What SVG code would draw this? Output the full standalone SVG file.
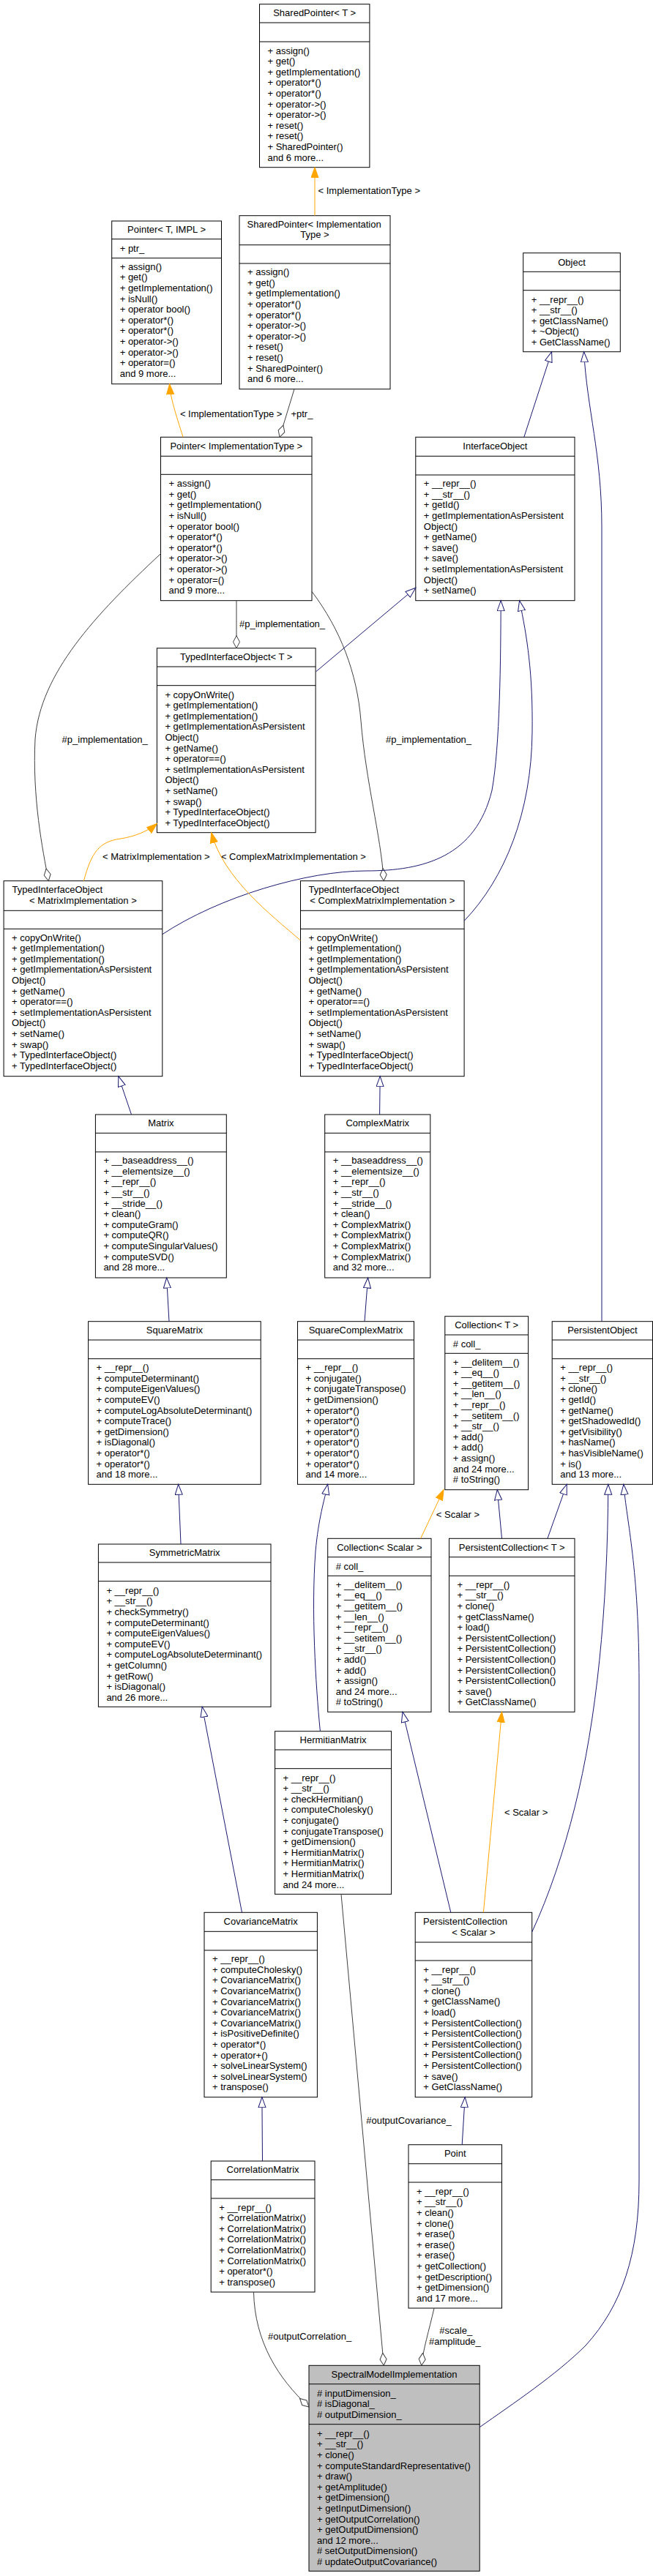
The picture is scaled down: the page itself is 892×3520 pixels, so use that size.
<svg xmlns="http://www.w3.org/2000/svg" width="892" height="3520" viewBox="0 0 892 3520">
<style>
.b{fill:#fff;stroke:#000;stroke-width:1}
.g{fill:#bfbfbf;stroke:#000;stroke-width:1}
.s{fill:none;stroke:#000;stroke-width:1}
text{font-family:"Liberation Sans",Arial,Helvetica,sans-serif;font-size:13px;fill:#000}
.c{text-anchor:middle}
.inh{fill:none;stroke:#191970;stroke-width:1;marker-end:url(#mi)}
.tpl{fill:none;stroke:#ffa500;stroke-width:1;marker-end:url(#mt)}
.use{fill:none;stroke:#404040;stroke-width:1;marker-end:url(#md)}
</style>
<defs>
<marker id="mi" markerUnits="userSpaceOnUse" markerWidth="16" markerHeight="12" refX="14.5" refY="5.5" orient="auto"><path d="M0.5,0.5 L14.5,5.5 L0.5,10.5 z" fill="#fff" stroke="#191970"/></marker>
<marker id="mt" markerUnits="userSpaceOnUse" markerWidth="16" markerHeight="12" refX="14.5" refY="5.5" orient="auto"><path d="M0.5,0.5 L14.5,5.5 L0.5,10.5 z" fill="#ffa500" stroke="#ffa500"/></marker>
<marker id="md" markerUnits="userSpaceOnUse" markerWidth="19" markerHeight="12" refX="17.5" refY="5.5" orient="auto"><path d="M0.5,5.5 L9,1 L17.5,5.5 L9,10 z" fill="#fff" stroke="#404040"/></marker>
</defs>
<rect x="0" y="0" width="892" height="3520" fill="#fff"/>

<g id="SharedPointerT">
<rect class="b" x="354.5" y="5.7" width="150.4" height="223"/>
<path class="s" d="M354.5,31H504.9M354.5,57H504.9"/>
<text class="c" x="429.7" y="21.8">SharedPointer&lt; T &gt;</text>
<text x="365.5" y="73.5"><tspan>+ assign()</tspan><tspan x="365.5" dy="14.6">+ get()</tspan><tspan x="365.5" dy="14.6">+ getImplementation()</tspan><tspan x="365.5" dy="14.6">+ operator*()</tspan><tspan x="365.5" dy="14.6">+ operator*()</tspan><tspan x="365.5" dy="14.6">+ operator-&gt;()</tspan><tspan x="365.5" dy="14.6">+ operator-&gt;()</tspan><tspan x="365.5" dy="14.6">+ reset()</tspan><tspan x="365.5" dy="14.6">+ reset()</tspan><tspan x="365.5" dy="14.6">+ SharedPointer()</tspan><tspan x="365.5" dy="14.6">and 6 more...</tspan></text>
</g>

<g id="SharedPointerImplementationType">
<rect class="b" x="327" y="294.7" width="206" height="237"/>
<path class="s" d="M327,334.7H533M327,360H533"/>
<text x="337.5" y="310.5">SharedPointer&lt; Implementation</text>
<text class="c" x="430" y="325.2">Type &gt;</text>
<text x="338" y="376.2"><tspan>+ assign()</tspan><tspan x="338" dy="14.6">+ get()</tspan><tspan x="338" dy="14.6">+ getImplementation()</tspan><tspan x="338" dy="14.6">+ operator*()</tspan><tspan x="338" dy="14.6">+ operator*()</tspan><tspan x="338" dy="14.6">+ operator-&gt;()</tspan><tspan x="338" dy="14.6">+ operator-&gt;()</tspan><tspan x="338" dy="14.6">+ reset()</tspan><tspan x="338" dy="14.6">+ reset()</tspan><tspan x="338" dy="14.6">+ SharedPointer()</tspan><tspan x="338" dy="14.6">and 6 more...</tspan></text>
</g>

<g id="PointerTIMPL">
<rect class="b" x="152.7" y="302" width="149.8" height="222.7"/>
<path class="s" d="M152.7,326.7H302.5M152.7,352.7H302.5"/>
<text class="c" x="227.6" y="317.9">Pointer&lt; T, IMPL &gt;</text>
<text x="163.7" y="343.8">+ ptr_</text>
<text x="163.7" y="368.8"><tspan>+ assign()</tspan><tspan x="163.7" dy="14.6">+ get()</tspan><tspan x="163.7" dy="14.6">+ getImplementation()</tspan><tspan x="163.7" dy="14.6">+ isNull()</tspan><tspan x="163.7" dy="14.6">+ operator bool()</tspan><tspan x="163.7" dy="14.6">+ operator*()</tspan><tspan x="163.7" dy="14.6">+ operator*()</tspan><tspan x="163.7" dy="14.6">+ operator-&gt;()</tspan><tspan x="163.7" dy="14.6">+ operator-&gt;()</tspan><tspan x="163.7" dy="14.6">+ operator=()</tspan><tspan x="163.7" dy="14.6">and 9 more...</tspan></text>
</g>

<g id="Object">
<rect class="b" x="714.7" y="345.7" width="132.6" height="135"/>
<path class="s" d="M714.7,371.3H847.3M714.7,396.7H847.3"/>
<text class="c" x="781" y="362.5">Object</text>
<text x="725.7" y="413.5"><tspan>+ __repr__()</tspan><tspan x="725.7" dy="14.6">+ __str__()</tspan><tspan x="725.7" dy="14.6">+ getClassName()</tspan><tspan x="725.7" dy="14.6">+ ~Object()</tspan><tspan x="725.7" dy="14.6">+ GetClassName()</tspan></text>
</g>

<g id="PointerImplementationType">
<rect class="b" x="219.5" y="597.3" width="206.5" height="223.4"/>
<path class="s" d="M219.5,623.3H426M219.5,648.3H426"/>
<text class="c" x="322.75" y="613.8">Pointer&lt; ImplementationType &gt;</text>
<text x="230.5" y="665.2"><tspan>+ assign()</tspan><tspan x="230.5" dy="14.6">+ get()</tspan><tspan x="230.5" dy="14.6">+ getImplementation()</tspan><tspan x="230.5" dy="14.6">+ isNull()</tspan><tspan x="230.5" dy="14.6">+ operator bool()</tspan><tspan x="230.5" dy="14.6">+ operator*()</tspan><tspan x="230.5" dy="14.6">+ operator*()</tspan><tspan x="230.5" dy="14.6">+ operator-&gt;()</tspan><tspan x="230.5" dy="14.6">+ operator-&gt;()</tspan><tspan x="230.5" dy="14.6">+ operator=()</tspan><tspan x="230.5" dy="14.6">and 9 more...</tspan></text>
</g>

<g id="InterfaceObject">
<rect class="b" x="567.8" y="597.3" width="217.2" height="223.4"/>
<path class="s" d="M567.8,623.3H785M567.8,649H785"/>
<text class="c" x="676.4" y="613.8">InterfaceObject</text>
<text x="578.8" y="665.2"><tspan>+ __repr__()</tspan><tspan x="578.8" dy="14.6">+ __str__()</tspan><tspan x="578.8" dy="14.6">+ getId()</tspan><tspan x="578.8" dy="14.6">+ getImplementationAsPersistent</tspan><tspan x="578.8" dy="14.6">Object()</tspan><tspan x="578.8" dy="14.6">+ getName()</tspan><tspan x="578.8" dy="14.6">+ save()</tspan><tspan x="578.8" dy="14.6">+ save()</tspan><tspan x="578.8" dy="14.6">+ setImplementationAsPersistent</tspan><tspan x="578.8" dy="14.6">Object()</tspan><tspan x="578.8" dy="14.6">+ setName()</tspan></text>
</g>

<g id="TypedInterfaceObjectT">
<rect class="b" x="214.4" y="885.7" width="216.7" height="252"/>
<path class="s" d="M214.4,911H431.1M214.4,936.7H431.1"/>
<text class="c" x="322.75" y="901.9">TypedInterfaceObject&lt; T &gt;</text>
<text x="225.4" y="953.5"><tspan>+ copyOnWrite()</tspan><tspan x="225.4" dy="14.6">+ getImplementation()</tspan><tspan x="225.4" dy="14.6">+ getImplementation()</tspan><tspan x="225.4" dy="14.6">+ getImplementationAsPersistent</tspan><tspan x="225.4" dy="14.6">Object()</tspan><tspan x="225.4" dy="14.6">+ getName()</tspan><tspan x="225.4" dy="14.6">+ operator==()</tspan><tspan x="225.4" dy="14.6">+ setImplementationAsPersistent</tspan><tspan x="225.4" dy="14.6">Object()</tspan><tspan x="225.4" dy="14.6">+ setName()</tspan><tspan x="225.4" dy="14.6">+ swap()</tspan><tspan x="225.4" dy="14.6">+ TypedInterfaceObject()</tspan><tspan x="225.4" dy="14.6">+ TypedInterfaceObject()</tspan></text>
</g>

<g id="TypedInterfaceObjectMatrixImplementation">
<rect class="b" x="5.1" y="1203.7" width="216.7" height="267"/>
<path class="s" d="M5.1,1244.3H221.8M5.1,1269.3H221.8"/>
<text x="16.5" y="1220.2">TypedInterfaceObject</text>
<text class="c" x="113.45" y="1235.2">&lt; MatrixImplementation &gt;</text>
<text x="16.1" y="1285.5"><tspan>+ copyOnWrite()</tspan><tspan x="16.1" dy="14.6">+ getImplementation()</tspan><tspan x="16.1" dy="14.6">+ getImplementation()</tspan><tspan x="16.1" dy="14.6">+ getImplementationAsPersistent</tspan><tspan x="16.1" dy="14.6">Object()</tspan><tspan x="16.1" dy="14.6">+ getName()</tspan><tspan x="16.1" dy="14.6">+ operator==()</tspan><tspan x="16.1" dy="14.6">+ setImplementationAsPersistent</tspan><tspan x="16.1" dy="14.6">Object()</tspan><tspan x="16.1" dy="14.6">+ setName()</tspan><tspan x="16.1" dy="14.6">+ swap()</tspan><tspan x="16.1" dy="14.6">+ TypedInterfaceObject()</tspan><tspan x="16.1" dy="14.6">+ TypedInterfaceObject()</tspan></text>
</g>

<g id="TypedInterfaceObjectComplexMatrixImplementation">
<rect class="b" x="410.5" y="1203.7" width="223.6" height="267"/>
<path class="s" d="M410.5,1244.3H634.1M410.5,1269.3H634.1"/>
<text x="421.5" y="1220.2">TypedInterfaceObject</text>
<text class="c" x="522.3" y="1235.2">&lt; ComplexMatrixImplementation &gt;</text>
<text x="421.5" y="1285.5"><tspan>+ copyOnWrite()</tspan><tspan x="421.5" dy="14.6">+ getImplementation()</tspan><tspan x="421.5" dy="14.6">+ getImplementation()</tspan><tspan x="421.5" dy="14.6">+ getImplementationAsPersistent</tspan><tspan x="421.5" dy="14.6">Object()</tspan><tspan x="421.5" dy="14.6">+ getName()</tspan><tspan x="421.5" dy="14.6">+ operator==()</tspan><tspan x="421.5" dy="14.6">+ setImplementationAsPersistent</tspan><tspan x="421.5" dy="14.6">Object()</tspan><tspan x="421.5" dy="14.6">+ setName()</tspan><tspan x="421.5" dy="14.6">+ swap()</tspan><tspan x="421.5" dy="14.6">+ TypedInterfaceObject()</tspan><tspan x="421.5" dy="14.6">+ TypedInterfaceObject()</tspan></text>
</g>

<g id="Matrix">
<rect class="b" x="130.4" y="1523" width="178.9" height="223"/>
<path class="s" d="M130.4,1548.3H309.3M130.4,1574H309.3"/>
<text class="c" x="219.85" y="1539.2">Matrix</text>
<text x="141.4" y="1590.2"><tspan>+ __baseaddress__()</tspan><tspan x="141.4" dy="14.6">+ __elementsize__()</tspan><tspan x="141.4" dy="14.6">+ __repr__()</tspan><tspan x="141.4" dy="14.6">+ __str__()</tspan><tspan x="141.4" dy="14.6">+ __stride__()</tspan><tspan x="141.4" dy="14.6">+ clean()</tspan><tspan x="141.4" dy="14.6">+ computeGram()</tspan><tspan x="141.4" dy="14.6">+ computeQR()</tspan><tspan x="141.4" dy="14.6">+ computeSingularValues()</tspan><tspan x="141.4" dy="14.6">+ computeSVD()</tspan><tspan x="141.4" dy="14.6">and 28 more...</tspan></text>
</g>

<g id="ComplexMatrix">
<rect class="b" x="443.7" y="1523" width="144.1" height="223"/>
<path class="s" d="M443.7,1548.3H587.8M443.7,1574H587.8"/>
<text class="c" x="515.75" y="1539.2">ComplexMatrix</text>
<text x="454.7" y="1590.2"><tspan>+ __baseaddress__()</tspan><tspan x="454.7" dy="14.6">+ __elementsize__()</tspan><tspan x="454.7" dy="14.6">+ __repr__()</tspan><tspan x="454.7" dy="14.6">+ __str__()</tspan><tspan x="454.7" dy="14.6">+ __stride__()</tspan><tspan x="454.7" dy="14.6">+ clean()</tspan><tspan x="454.7" dy="14.6">+ ComplexMatrix()</tspan><tspan x="454.7" dy="14.6">+ ComplexMatrix()</tspan><tspan x="454.7" dy="14.6">+ ComplexMatrix()</tspan><tspan x="454.7" dy="14.6">+ ComplexMatrix()</tspan><tspan x="454.7" dy="14.6">and 32 more...</tspan></text>
</g>

<g id="SquareMatrix">
<rect class="b" x="120.6" y="1805.7" width="235.6" height="222.6"/>
<path class="s" d="M120.6,1831H356.2M120.6,1856.7H356.2"/>
<text class="c" x="238.4" y="1821.9">SquareMatrix</text>
<text x="131.6" y="1873.2"><tspan>+ __repr__()</tspan><tspan x="131.6" dy="14.6">+ computeDeterminant()</tspan><tspan x="131.6" dy="14.6">+ computeEigenValues()</tspan><tspan x="131.6" dy="14.6">+ computeEV()</tspan><tspan x="131.6" dy="14.6">+ computeLogAbsoluteDeterminant()</tspan><tspan x="131.6" dy="14.6">+ computeTrace()</tspan><tspan x="131.6" dy="14.6">+ getDimension()</tspan><tspan x="131.6" dy="14.6">+ isDiagonal()</tspan><tspan x="131.6" dy="14.6">+ operator*()</tspan><tspan x="131.6" dy="14.6">+ operator*()</tspan><tspan x="131.6" dy="14.6">and 18 more...</tspan></text>
</g>

<g id="SquareComplexMatrix">
<rect class="b" x="406.5" y="1805.7" width="159" height="222.6"/>
<path class="s" d="M406.5,1831H565.5M406.5,1856.7H565.5"/>
<text class="c" x="486" y="1821.9">SquareComplexMatrix</text>
<text x="417.5" y="1873.2"><tspan>+ __repr__()</tspan><tspan x="417.5" dy="14.6">+ conjugate()</tspan><tspan x="417.5" dy="14.6">+ conjugateTranspose()</tspan><tspan x="417.5" dy="14.6">+ getDimension()</tspan><tspan x="417.5" dy="14.6">+ operator*()</tspan><tspan x="417.5" dy="14.6">+ operator*()</tspan><tspan x="417.5" dy="14.6">+ operator*()</tspan><tspan x="417.5" dy="14.6">+ operator*()</tspan><tspan x="417.5" dy="14.6">+ operator*()</tspan><tspan x="417.5" dy="14.6">+ operator*()</tspan><tspan x="417.5" dy="14.6">and 14 more...</tspan></text>
</g>

<g id="CollectionT">
<rect class="b" x="607.8" y="1798.7" width="113.8" height="237"/>
<path class="s" d="M607.8,1824H721.6M607.8,1849.3H721.6"/>
<text class="c" x="664.7" y="1814.9">Collection&lt; T &gt;</text>
<text x="618.8" y="1840.5"># coll_</text>
<text x="618.8" y="1865.5"><tspan>+ __delitem__()</tspan><tspan x="618.8" dy="14.6">+ __eq__()</tspan><tspan x="618.8" dy="14.6">+ __getitem__()</tspan><tspan x="618.8" dy="14.6">+ __len__()</tspan><tspan x="618.8" dy="14.6">+ __repr__()</tspan><tspan x="618.8" dy="14.6">+ __setitem__()</tspan><tspan x="618.8" dy="14.6">+ __str__()</tspan><tspan x="618.8" dy="14.6">+ add()</tspan><tspan x="618.8" dy="14.6">+ add()</tspan><tspan x="618.8" dy="14.6">+ assign()</tspan><tspan x="618.8" dy="14.6">and 24 more...</tspan><tspan x="618.8" dy="14.6"># toString()</tspan></text>
</g>

<g id="PersistentObject">
<rect class="b" x="754.2" y="1805.7" width="137.3" height="222.6"/>
<path class="s" d="M754.2,1831H891.5M754.2,1856.7H891.5"/>
<text class="c" x="822.85" y="1821.9">PersistentObject</text>
<text x="765.2" y="1873.2"><tspan>+ __repr__()</tspan><tspan x="765.2" dy="14.6">+ __str__()</tspan><tspan x="765.2" dy="14.6">+ clone()</tspan><tspan x="765.2" dy="14.6">+ getId()</tspan><tspan x="765.2" dy="14.6">+ getName()</tspan><tspan x="765.2" dy="14.6">+ getShadowedId()</tspan><tspan x="765.2" dy="14.6">+ getVisibility()</tspan><tspan x="765.2" dy="14.6">+ hasName()</tspan><tspan x="765.2" dy="14.6">+ hasVisibleName()</tspan><tspan x="765.2" dy="14.6">+ is()</tspan><tspan x="765.2" dy="14.6">and 13 more...</tspan></text>
</g>

<g id="SymmetricMatrix">
<rect class="b" x="134.4" y="2110" width="235.6" height="222.3"/>
<path class="s" d="M134.4,2135H370M134.4,2160.7H370"/>
<text class="c" x="252.2" y="2126">SymmetricMatrix</text>
<text x="145.4" y="2177.8"><tspan>+ __repr__()</tspan><tspan x="145.4" dy="14.6">+ __str__()</tspan><tspan x="145.4" dy="14.6">+ checkSymmetry()</tspan><tspan x="145.4" dy="14.6">+ computeDeterminant()</tspan><tspan x="145.4" dy="14.6">+ computeEigenValues()</tspan><tspan x="145.4" dy="14.6">+ computeEV()</tspan><tspan x="145.4" dy="14.6">+ computeLogAbsoluteDeterminant()</tspan><tspan x="145.4" dy="14.6">+ getColumn()</tspan><tspan x="145.4" dy="14.6">+ getRow()</tspan><tspan x="145.4" dy="14.6">+ isDiagonal()</tspan><tspan x="145.4" dy="14.6">and 26 more...</tspan></text>
</g>

<g id="CollectionScalar">
<rect class="b" x="447.7" y="2102.3" width="141.3" height="237"/>
<path class="s" d="M447.7,2127.7H589M447.7,2153.3H589"/>
<text class="c" x="518.35" y="2118.5">Collection&lt; Scalar &gt;</text>
<text x="458.7" y="2144.5"># coll_</text>
<text x="458.7" y="2169.8"><tspan>+ __delitem__()</tspan><tspan x="458.7" dy="14.6">+ __eq__()</tspan><tspan x="458.7" dy="14.6">+ __getitem__()</tspan><tspan x="458.7" dy="14.6">+ __len__()</tspan><tspan x="458.7" dy="14.6">+ __repr__()</tspan><tspan x="458.7" dy="14.6">+ __setitem__()</tspan><tspan x="458.7" dy="14.6">+ __str__()</tspan><tspan x="458.7" dy="14.6">+ add()</tspan><tspan x="458.7" dy="14.6">+ add()</tspan><tspan x="458.7" dy="14.6">+ assign()</tspan><tspan x="458.7" dy="14.6">and 24 more...</tspan><tspan x="458.7" dy="14.6"># toString()</tspan></text>
</g>

<g id="PersistentCollectionT">
<rect class="b" x="613.5" y="2102.3" width="171.5" height="237"/>
<path class="s" d="M613.5,2127.7H785M613.5,2153.3H785"/>
<text class="c" x="699.25" y="2118.5">PersistentCollection&lt; T &gt;</text>
<text x="624.5" y="2169.8"><tspan>+ __repr__()</tspan><tspan x="624.5" dy="14.6">+ __str__()</tspan><tspan x="624.5" dy="14.6">+ clone()</tspan><tspan x="624.5" dy="14.6">+ getClassName()</tspan><tspan x="624.5" dy="14.6">+ load()</tspan><tspan x="624.5" dy="14.6">+ PersistentCollection()</tspan><tspan x="624.5" dy="14.6">+ PersistentCollection()</tspan><tspan x="624.5" dy="14.6">+ PersistentCollection()</tspan><tspan x="624.5" dy="14.6">+ PersistentCollection()</tspan><tspan x="624.5" dy="14.6">+ PersistentCollection()</tspan><tspan x="624.5" dy="14.6">+ save()</tspan><tspan x="624.5" dy="14.6">+ GetClassName()</tspan></text>
</g>

<g id="HermitianMatrix">
<rect class="b" x="375.6" y="2365.7" width="159" height="222.6"/>
<path class="s" d="M375.6,2391H534.6M375.6,2416.7H534.6"/>
<text class="c" x="455.1" y="2381.9">HermitianMatrix</text>
<text x="386.6" y="2433.5"><tspan>+ __repr__()</tspan><tspan x="386.6" dy="14.6">+ __str__()</tspan><tspan x="386.6" dy="14.6">+ checkHermitian()</tspan><tspan x="386.6" dy="14.6">+ computeCholesky()</tspan><tspan x="386.6" dy="14.6">+ conjugate()</tspan><tspan x="386.6" dy="14.6">+ conjugateTranspose()</tspan><tspan x="386.6" dy="14.6">+ getDimension()</tspan><tspan x="386.6" dy="14.6">+ HermitianMatrix()</tspan><tspan x="386.6" dy="14.6">+ HermitianMatrix()</tspan><tspan x="386.6" dy="14.6">+ HermitianMatrix()</tspan><tspan x="386.6" dy="14.6">and 24 more...</tspan></text>
</g>

<g id="CovarianceMatrix">
<rect class="b" x="279" y="2613.3" width="154.4" height="252.4"/>
<path class="s" d="M279,2639.3H433.4M279,2665H433.4"/>
<text class="c" x="356.2" y="2629.8">CovarianceMatrix</text>
<text x="290" y="2681.2"><tspan>+ __repr__()</tspan><tspan x="290" dy="14.6">+ computeCholesky()</tspan><tspan x="290" dy="14.6">+ CovarianceMatrix()</tspan><tspan x="290" dy="14.6">+ CovarianceMatrix()</tspan><tspan x="290" dy="14.6">+ CovarianceMatrix()</tspan><tspan x="290" dy="14.6">+ CovarianceMatrix()</tspan><tspan x="290" dy="14.6">+ CovarianceMatrix()</tspan><tspan x="290" dy="14.6">+ isPositiveDefinite()</tspan><tspan x="290" dy="14.6">+ operator*()</tspan><tspan x="290" dy="14.6">+ operator+()</tspan><tspan x="290" dy="14.6">+ solveLinearSystem()</tspan><tspan x="290" dy="14.6">+ solveLinearSystem()</tspan><tspan x="290" dy="14.6">+ transpose()</tspan></text>
</g>

<g id="PersistentCollectionScalar">
<rect class="b" x="567.2" y="2613.3" width="159.5" height="252.4"/>
<path class="s" d="M567.2,2654H726.7M567.2,2679H726.7"/>
<text x="578" y="2630.2">PersistentCollection</text>
<text class="c" x="646.95" y="2645.2">&lt; Scalar &gt;</text>
<text x="578.2" y="2695.5"><tspan>+ __repr__()</tspan><tspan x="578.2" dy="14.6">+ __str__()</tspan><tspan x="578.2" dy="14.6">+ clone()</tspan><tspan x="578.2" dy="14.6">+ getClassName()</tspan><tspan x="578.2" dy="14.6">+ load()</tspan><tspan x="578.2" dy="14.6">+ PersistentCollection()</tspan><tspan x="578.2" dy="14.6">+ PersistentCollection()</tspan><tspan x="578.2" dy="14.6">+ PersistentCollection()</tspan><tspan x="578.2" dy="14.6">+ PersistentCollection()</tspan><tspan x="578.2" dy="14.6">+ PersistentCollection()</tspan><tspan x="578.2" dy="14.6">+ save()</tspan><tspan x="578.2" dy="14.6">+ GetClassName()</tspan></text>
</g>

<g id="CorrelationMatrix">
<rect class="b" x="288.2" y="2953" width="141.8" height="179"/>
<path class="s" d="M288.2,2978.7H430M288.2,3004H430"/>
<text class="c" x="359.1" y="2969.4">CorrelationMatrix</text>
<text x="299.2" y="3020.5"><tspan>+ __repr__()</tspan><tspan x="299.2" dy="14.6">+ CorrelationMatrix()</tspan><tspan x="299.2" dy="14.6">+ CorrelationMatrix()</tspan><tspan x="299.2" dy="14.6">+ CorrelationMatrix()</tspan><tspan x="299.2" dy="14.6">+ CorrelationMatrix()</tspan><tspan x="299.2" dy="14.6">+ CorrelationMatrix()</tspan><tspan x="299.2" dy="14.6">+ operator*()</tspan><tspan x="299.2" dy="14.6">+ transpose()</tspan></text>
</g>

<g id="Point">
<rect class="b" x="558" y="2930.7" width="127.5" height="223.3"/>
<path class="s" d="M558,2956.7H685.5M558,2982H685.5"/>
<text class="c" x="621.75" y="2947.2">Point</text>
<text x="569" y="2998.8"><tspan>+ __repr__()</tspan><tspan x="569" dy="14.6">+ __str__()</tspan><tspan x="569" dy="14.6">+ clean()</tspan><tspan x="569" dy="14.6">+ clone()</tspan><tspan x="569" dy="14.6">+ erase()</tspan><tspan x="569" dy="14.6">+ erase()</tspan><tspan x="569" dy="14.6">+ erase()</tspan><tspan x="569" dy="14.6">+ getCollection()</tspan><tspan x="569" dy="14.6">+ getDescription()</tspan><tspan x="569" dy="14.6">+ getDimension()</tspan><tspan x="569" dy="14.6">and 17 more...</tspan></text>
</g>

<g id="SpectralModelImplementation">
<rect class="g" x="422" y="3232.3" width="233.2" height="281"/>
<path class="s" d="M422,3257.7H655.2M422,3312.7H655.2"/>
<text class="c" x="538.6" y="3248.5">SpectralModelImplementation</text>
<text x="433" y="3274.5"><tspan># inputDimension_</tspan><tspan x="433" dy="14.6"># isDiagonal_</tspan><tspan x="433" dy="14.6"># outputDimension_</tspan></text>
<text x="433" y="3329.8"><tspan>+ __repr__()</tspan><tspan x="433" dy="14.6">+ __str__()</tspan><tspan x="433" dy="14.6">+ clone()</tspan><tspan x="433" dy="14.6">+ computeStandardRepresentative()</tspan><tspan x="433" dy="14.6">+ draw()</tspan><tspan x="433" dy="14.6">+ getAmplitude()</tspan><tspan x="433" dy="14.6">+ getDimension()</tspan><tspan x="433" dy="14.6">+ getInputDimension()</tspan><tspan x="433" dy="14.6">+ getOutputCorrelation()</tspan><tspan x="433" dy="14.6">+ getOutputDimension()</tspan><tspan x="433" dy="14.6">and 12 more...</tspan><tspan x="433" dy="14.6"># setOutputDimension()</tspan><tspan x="433" dy="14.6"># updateOutputCovariance()</tspan></text>
</g>

<g id="connectors">
<path class="tpl" d="M430,294.7 L430,228.7"/>
<path class="tpl" d="M250,597.3 C240,565 233,545 231.6,524.7"/>
<path class="use" d="M402,531.7 L382,597.3"/>
<path class="inh" d="M715.8,597.3 L753.6,480.7"/>
<path class="inh" d="M822,1805.7 L822,720 C822,620 802,560 797.6,480.7"/>
<path class="use" d="M323,820.7 L323,885.7"/>
<path class="use" d="M219.5,756.7 C130,840 55,920 48,1010 C44,1090 58,1160 66.3,1203.7"/>
<path class="use" d="M426,808.3 C465,860 488,920 493,985 C500,1070 520,1140 524.3,1203.7"/>
<path class="inh" d="M431.7,917.7 L567.8,803.3"/>
<path class="inh" d="M221.8,1276.7 C300,1225 420,1190 500,1190 C580,1190 650,1170 672,1080 C683,1020 684,900 684.2,820.7"/>
<path class="inh" d="M634.1,1258.3 C690,1200 726,1110 727,1000 C728,920 720,870 709.6,820.7"/>
<path class="tpl" d="M114.4,1203.7 C125,1165 135,1150 165,1146 C185,1143 203,1135 214.4,1125.5"/>
<path class="tpl" d="M410.5,1285 C370,1250 305,1200 288.7,1137.7"/>
<path class="inh" d="M179.5,1523 L161.8,1470.7"/>
<path class="inh" d="M518.6,1523 L519.2,1470.7"/>
<path class="inh" d="M231,1805.7 L227.6,1746"/>
<path class="inh" d="M498,1805.7 L502.6,1746"/>
<path class="inh" d="M247,2110 L243.6,2028.3"/>
<path class="inh" d="M437.4,2365.7 C431,2300 425,2200 431,2120 C435,2075 443,2050 447.7,2028.3"/>
<path class="tpl" d="M574.6,2102.3 L606,2035.7"/>
<path class="inh" d="M685.5,2102.3 L679.3,2035.7"/>
<path class="inh" d="M747.9,2102.3 L774.2,2028.3"/>
<path class="inh" d="M330.5,2613.3 L276.2,2332.3"/>
<path class="inh" d="M615.8,2613.3 L550,2339.3"/>
<path class="tpl" d="M660.4,2613.3 L685.5,2339.3"/>
<path class="inh" d="M726.7,2640 C750,2590 770,2530 785,2470 C815,2350 830,2200 830.8,2028.3"/>
<path class="inh" d="M655.2,3316.7 C700,3285 760,3245 800,3205 C850,3150 873,3080 873,2980 L873,2300 C873,2140 856,2080 851.9,2028.3"/>
<path class="use" d="M466,2588.3 L524.3,3232.3"/>
<path class="inh" d="M358.5,2953 L357.9,2865.7"/>
<path class="inh" d="M631.2,2930.7 L635.2,2865.7"/>
<path class="use" d="M346.5,3132 C348,3200 380,3250 422,3289"/>
<path class="use" d="M593,3154 C586,3185 578,3210 575.8,3232.3"/>
<text x="434.5" y="265.2">&lt; ImplementationType &gt;</text>
<text x="245.9" y="569.5">&lt; ImplementationType &gt;</text>
<text x="397.4" y="569.5">+ptr_</text>
<text x="327" y="857.2">#p_implementation_</text>
<text x="84.6" y="1015.2">#p_implementation_</text>
<text x="527" y="1015.2">#p_implementation_</text>
<text x="140" y="1174.5">&lt; MatrixImplementation &gt;</text>
<text x="301.9" y="1174.5">&lt; ComplexMatrixImplementation &gt;</text>
<text x="595.8" y="2073.5">&lt; Scalar &gt;</text>
<text x="689" y="2481.2">&lt; Scalar &gt;</text>
<text x="500.3" y="2902.2">#outputCovariance_</text>
<text x="366" y="3197.2">#outputCorrelation_</text>
<text x="600.3" y="3188.8">#scale_</text>
<text x="586" y="3203.8">#amplitude_</text>
</g>
</svg>
